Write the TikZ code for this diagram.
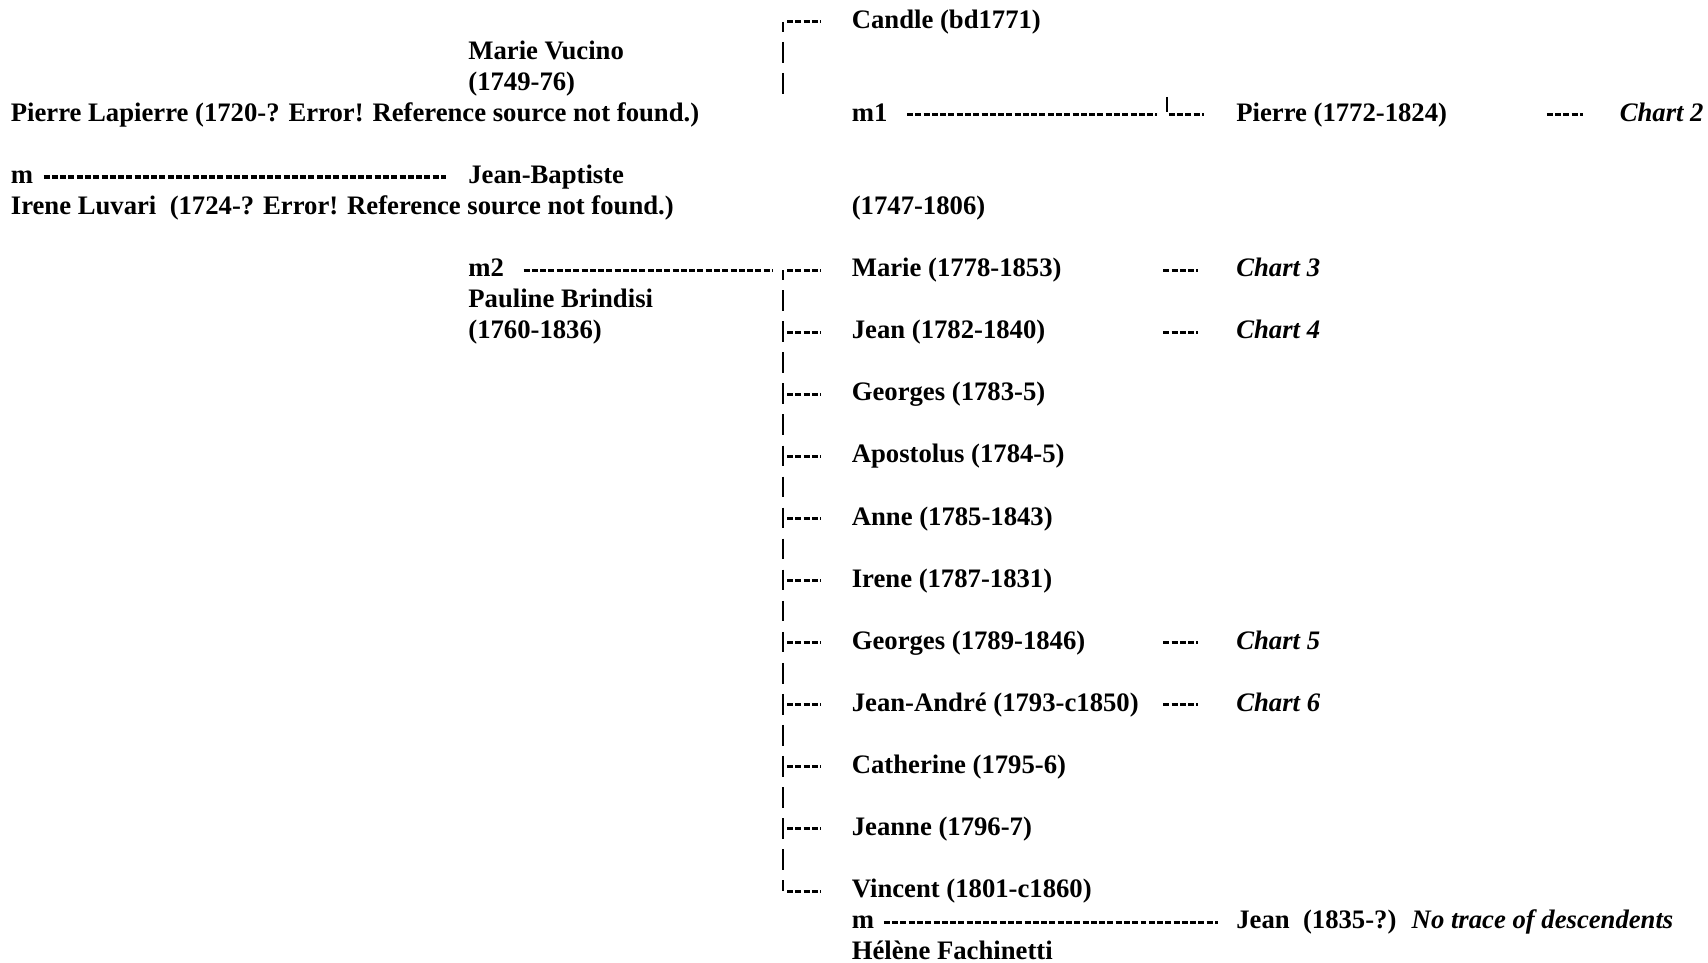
\documentclass[tikz,border=0pt]{standalone}
\usepackage{fontspec}
\setmainfont{Liberation Serif}
\usetikzlibrary{calc}

\tikzset{
  lbl/.style={anchor=base west, inner sep=0pt, outer sep=0pt,
              font=\bfseries\fontsize{12.25}{14}\selectfont},
  chartlbl/.style={lbl, font=\bfseries\itshape\fontsize{12.25}{14}\selectfont},
  hy/.style={line width=1.4pt, dash pattern=on 2.75pt off 1.05pt},
  trunk/.style={line width=1pt, dash pattern=on 9.5pt off 4.75pt, dash phase=5pt},
  barv/.style={line width=1pt},
}

\begin{document}
\begin{tikzpicture}[x=0.5pt, y=-0.5pt]
\fill[white] (0,0) rectangle (1568,884);
\useasboundingbox (0,0) rectangle (1568,884);

% ---- parents ----
\node[lbl] (plapierre) at (10,111.5) {Pierre Lapierre (1720-? Error! Reference source not found.)};
\node[lbl] (mjb) at (10,168.5) {m};
\node[lbl] (iluvari) at (10,197) {Irene Luvari\ \ (1724-? Error! Reference source not found.)};

% ---- Jean-Baptiste and his wives ----
\node[lbl] (mvucino) at (430,54.5) {Marie Vucino};
\node[lbl] (mvdates) at (430,83) {(1749-76)};
\node[lbl] (jb) at (430,168.5) {Jean-Baptiste};
\node[lbl] (jbdates) at (782,197) {(1747-1806)};
\node[lbl] (m1) at (782,111.5) {m1};
\node[lbl] (m2) at (430,254) {m2};
\node[lbl] (pbrindisi) at (430,282.5) {Pauline Brindisi};
\node[lbl] (pbdates) at (430,311) {(1760-1836)};

% ---- children of the first marriage ----
\node[lbl] (candle) at (782,26) {Candle (bd1771)};
\node[lbl] (pierre) at (1135,111.5) {Pierre (1772-1824)};
\node[chartlbl] (chart2) at (1487,111.5) {Chart 2};

% ---- children of the second marriage ----
\node[lbl] (marie) at (782,254) {Marie (1778-1853)};
\node[chartlbl] (chart3) at (1135,254) {Chart 3};
\node[lbl] (jean) at (782,311) {Jean (1782-1840)};
\node[chartlbl] (chart4) at (1135,311) {Chart 4};
\node[lbl] (georges1) at (782,368) {Georges (1783-5)};
\node[lbl] (apostolus) at (782,425) {Apostolus (1784-5)};
\node[lbl] (anne) at (782,482) {Anne (1785-1843)};
\node[lbl] (irene) at (782,539) {Irene (1787-1831)};
\node[lbl] (georges2) at (782,596) {Georges (1789-1846)};
\node[chartlbl] (chart5) at (1135,596) {Chart 5};
\node[lbl] (jeanandre) at (782,653) {Jean-André (1793-c1850)};
\node[chartlbl] (chart6) at (1135,653) {Chart 6};
\node[lbl] (catherine) at (782,710) {Catherine (1795-6)};
\node[lbl] (jeanne) at (782,767) {Jeanne (1796-7)};
\node[lbl] (vincent) at (782,824) {Vincent (1801-c1860)};
\node[lbl] (mvin) at (782,852.5) {m};
\node[lbl] (jeanjr) at (1135,852.5) {Jean\ \ (1835-?)};
\node[chartlbl] (notrace) at (1296,852.5) {No trace of descendents};
\node[lbl] (helene) at (782,881) {Hélène Fachinetti};

% ---- marriage connectors ----
\draw[hy] ($(mjb.base east)+(9.6,-6)$) -- ($(jb.base west)+(-21,-6)$);
\draw[hy] ($(m1.base east)+(18,-6)$) -- ($(pierre.base west)+(-73,-6)$);
\draw[hy] ($(m2.base east)+(18,-6)$) -- ($(marie.base west)+(-72,-6)$);
\draw[hy] ($(mvin.base east)+(9,-6)$) -- ($(jeanjr.base west)+(-17,-6)$);

% ---- first family bracket ----
\coordinate (t1top) at (718.5,20);
\coordinate (t1bot) at (718.5,86);
\draw[trunk] (t1top) -- (t1bot);
\draw[hy] ($(t1top)+(4,0)$) -- ($(candle.base west)+(-29,-6)$);
\coordinate (pcorner) at ($(pierre.base west)+(-64,-6)$);
\draw[barv] ($(pcorner)+(0,-16.5)$) -- ($(pcorner)+(0,-3)$);
\draw[hy] ($(pcorner)+(2,0)$) -- ($(pierre.base west)+(-30,-6)$);

% ---- second family bracket ----
\coordinate (t2top) at (718.5,248);
\coordinate (t2bot) at (718.5,818);
\draw[trunk] (t2top) -- (t2bot);
\foreach \c in {marie,jean,georges1,apostolus,anne,irene,georges2,jeanandre,catherine,jeanne,vincent}
  \draw[hy] ($(t2top |- \c.base west)+(4,-6)$) -- ($(\c.base west)+(-29,-6)$);

% ---- pointers to continuation charts ----
\draw[hy] ($(chart2.base west)+(-67,-6)$) -- ($(chart2.base west)+(-34,-6)$);
\foreach \c in {chart3,chart4,chart5,chart6}
  \draw[hy] ($(\c.base west)+(-67,-6)$) -- ($(\c.base west)+(-35,-6)$);
\end{tikzpicture}
\end{document}
